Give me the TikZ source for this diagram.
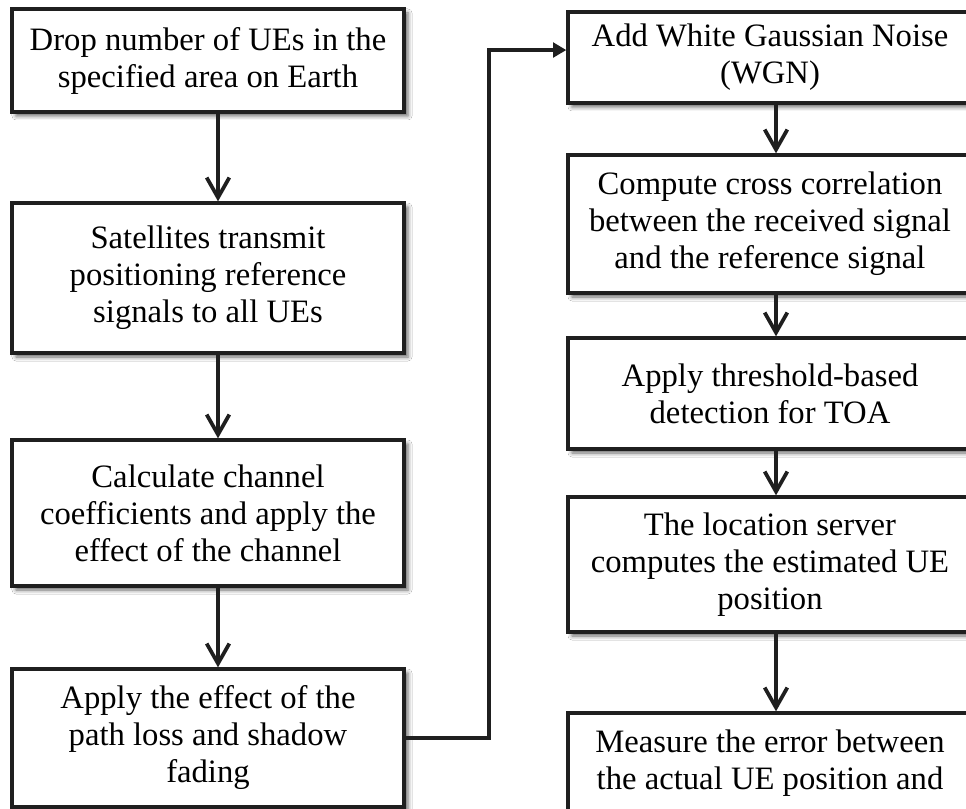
\documentclass[tikz,border=0pt]{standalone}
\usepackage{fontspec}
\setmainfont{Liberation Serif}
\usetikzlibrary{arrows.meta,shadows.blur,calc}
\begin{document}
\begin{tikzpicture}[x=0.75pt,y=-0.75pt,
  box/.style={draw=black!88, line width=2.5pt, fill=white, inner sep=0pt, align=center,
    font=\fontsize{24.5}{27.75}\selectfont,
    blur shadow={shadow xshift=3pt, shadow yshift=-3pt, shadow blur radius=3pt, shadow opacity=60}},
  lbox/.style={box, minimum width=294pt},
  rbox/.style={box, minimum width=303pt},
  flow/.style={line width=2.8pt, draw=black!88, -{Straight Barb[length=15pt,width=17pt]}},
  link/.style={line width=2.8pt, draw=black!88, -{Triangle[length=10pt,width=11pt]}}
]
\useasboundingbox (0,0) rectangle (966,809);
\clip (0,0) rectangle (966,809);
\fill[white] (0,0) rectangle (966,809);

\node[lbox, minimum height=77.25pt] (L1) at (208,60.5) {Drop number of UEs in the\\specified area on Earth};
\node[lbox, minimum height=112.5pt] (L2) at (208,278) {Satellites transmit\\positioning reference\\signals to all UEs};
\node[lbox, minimum height=109.5pt] (L3) at (208,513) {Calculate channel\\coefficients and apply the\\effect of the channel};
\node[lbox, minimum height=103.5pt] (L4) at (208,738) {Apply the effect of the\\path loss and shadow\\fading};

\node[rbox, minimum height=68.25pt] (R1) at (770,57.5) {Add White Gaussian Noise\\(WGN)};
\node[rbox, minimum height=103.5pt] (R2) at (770,224) {Compute cross correlation\\between the received signal\\and the reference signal};
\node[rbox, minimum height=83.25pt] (R3) at (770,393.5) {Apply threshold-based\\detection for TOA};
\node[rbox, minimum height=101.25pt] (R4) at (770,564.5) {The location server\\computes the estimated UE\\position};
\node[rbox, minimum height=97.5pt] (R5) at (770,778) {Measure the error between\\the actual UE position and\\\mbox{}};

\draw[flow] ([xshift=7.5pt]L1.south) -- ([xshift=7.5pt]L2.north);
\draw[flow] ([xshift=7.5pt]L2.south) -- ([xshift=7.5pt]L3.north);
\draw[flow] ([xshift=7.5pt]L3.south) -- ([xshift=7.5pt]L4.north);

\draw[flow] ([xshift=4.5pt]R1.south) -- ([xshift=4.5pt]R2.north);
\draw[flow] ([xshift=4.5pt]R2.south) -- ([xshift=4.5pt]R3.north);
\draw[flow] ([xshift=4.5pt]R3.south) -- ([xshift=4.5pt]R4.north);
\draw[flow] ([xshift=4.5pt]R4.south) -- ([xshift=4.5pt]R5.north);

\draw[link] (L4.east) -- ++(83,0) |- ([yshift=5.6pt]R1.west);
\end{tikzpicture}
\end{document}
